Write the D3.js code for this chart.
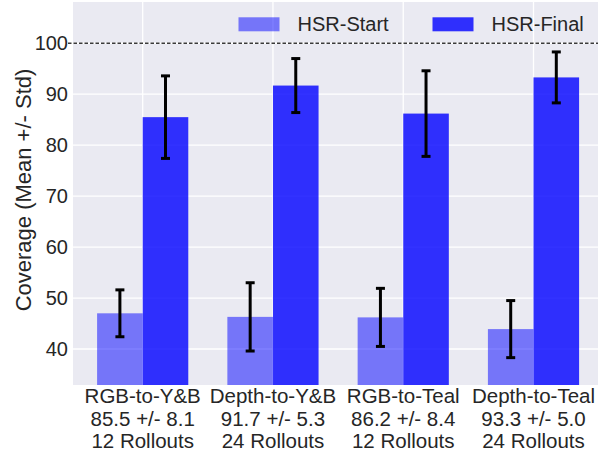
<!DOCTYPE html>
<html><head><meta charset="utf-8">
<script src="https://cdn.jsdelivr.net/npm/d3@7"></script>
<style>
body{margin:0;background:#fff;}
text{font-family:"Liberation Sans",Arial,sans-serif;fill:#262626;}
</style></head>
<body><svg id="c" width="598" height="455"></svg>
<script>
const categories = ["RGB-to-Y&B","Depth-to-Y&B","RGB-to-Teal","Depth-to-Teal"];
const subLabels1 = ["85.5 +/- 8.1","91.7 +/- 5.3","86.2 +/- 8.4","93.3 +/- 5.0"];
const subLabels2 = ["12 Rollouts","24 Rollouts","12 Rollouts","24 Rollouts"];
const seriesNames = ["HSR-Start","HSR-Final"];
const startMean = [47.0, 46.3, 46.2, 43.9];
const startStd  = [4.6, 6.7, 5.7, 5.6];
const finalMean = [85.5, 91.7, 86.2, 93.3];
const finalStd  = [8.1, 5.3, 8.4, 5.0];
const yTicks = [40,50,60,70,80,90,100];
const refLine = 100;

const svg = d3.select("#c");
const L=73, R=598, T=2, B=385;
const x = d3.scaleLinear().domain([-0.535,3.535]).range([L, L+4.07*130.27]);
const y = d3.scaleLinear().domain([32.93,108.1]).range([B,T]);
const bw = 0.35;

svg.append("rect").attr("x",L).attr("y",T).attr("width",R-L).attr("height",B-T).attr("fill","#eaeaf2");
svg.append("clipPath").attr("id","pc").append("rect").attr("x",L).attr("y",T).attr("width",R-L).attr("height",B-T);

const g = svg.append("g").attr("clip-path","url(#pc)");
g.selectAll(".hg").data(yTicks).join("line")
 .attr("x1",L).attr("x2",R).attr("y1",d=>y(d)).attr("y2",d=>y(d))
 .attr("stroke","#fff").attr("stroke-width",1.3);
g.selectAll(".vg").data(d3.range(categories.length)).join("line")
 .attr("y1",T).attr("y2",B).attr("x1",d=>x(d)).attr("x2",d=>x(d))
 .attr("stroke","#fff").attr("stroke-width",1.3);

const series = [
 {mean:startMean, std:startStd, off:-bw/2, color:"rgba(0,0,255,0.5)"},
 {mean:finalMean, std:finalStd, off:bw/2, color:"rgba(0,0,255,0.8)"}
];
series.forEach(s=>{
  g.selectAll(null).data(s.mean).join("rect")
   .attr("x",(d,i)=>x(i+s.off-bw/2)).attr("width",x(bw)-x(0))
   .attr("y",d=>y(d)).attr("height",d=>B-y(d))
   .attr("fill",s.color);
});
svg.append("line").attr("x1",68).attr("x2",R).attr("y1",y(refLine)).attr("y2",y(refLine))
 .attr("stroke","#3a3a3a").attr("stroke-width",1.4).attr("stroke-dasharray","3.5,2");
series.forEach(s=>{
  s.mean.forEach((m,i)=>{
    const cx = x(i+s.off), lo=y(m-s.std[i]), hi=y(m+s.std[i]);
    g.append("line").attr("x1",cx).attr("x2",cx).attr("y1",lo).attr("y2",hi).attr("stroke","#000").attr("stroke-width",3);
    [lo,hi].forEach(yy=>g.append("line").attr("x1",cx-4.5).attr("x2",cx+4.5).attr("y1",yy).attr("y2",yy).attr("stroke","#000").attr("stroke-width",3));
  });
});

const yAxis = d3.axisLeft(y).tickValues(yTicks).tickSize(0).tickPadding(5);
const ya = svg.append("g").attr("transform",`translate(${L},0)`).call(yAxis);
ya.select(".domain").remove();
ya.selectAll("text").style("font-size","20px").attr("fill","#262626").attr("font-family",null);

const xa = svg.append("g");
categories.forEach((c,i)=>{
  const t = xa.append("text").attr("x",x(i)).attr("y",403).attr("text-anchor","middle").style("font-size","20.5px");
  [c, subLabels1[i], subLabels2[i]].forEach((s,k)=>t.append("tspan").attr("x",x(i)).attr("y",403.3+k*22.5).text(s));
});

svg.append("text").attr("transform",`translate(31,190) rotate(-90)`).attr("text-anchor","middle")
 .style("font-size","22px").text("Coverage (Mean +/- Std)");

const leg = [{name:seriesNames[0],color:"rgba(0,0,255,0.5)",x:238.5},{name:seriesNames[1],color:"rgba(0,0,255,0.8)",x:432.5}];
leg.forEach(l=>{
  svg.append("rect").attr("x",l.x).attr("y",17.3).attr("width",41).attr("height",14).attr("fill",l.color);
  svg.append("text").attr("x",l.x+59).attr("y",31).style("font-size","20px").text(l.name);
});
</script></body></html>
